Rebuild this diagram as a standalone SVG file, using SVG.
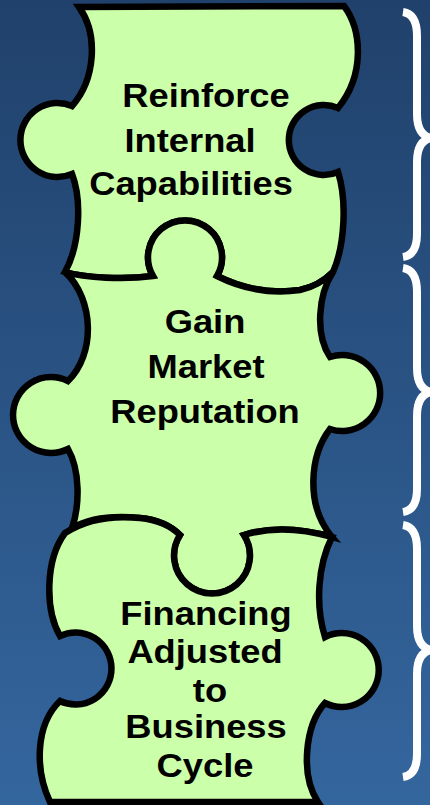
<svg xmlns="http://www.w3.org/2000/svg" width="430" height="805" viewBox="0 0 430 805">
  <defs>
    <linearGradient id="bg" x1="0" y1="0" x2="0" y2="1">
      <stop offset="0" stop-color="#20416B"/>
      <stop offset="1" stop-color="#34669E"/>
    </linearGradient>
    <style>
      .piece { fill: #CCFFAA; stroke: #000; stroke-width: 6.5; stroke-linejoin: miter; }
      .label { font-family: "Liberation Sans", Arial, sans-serif; font-weight: bold; font-size: 33px; fill: #000; text-anchor: middle; }
      .brace { fill: none; stroke: #FFFFFF; stroke-width: 8; stroke-linecap: butt; }
    </style>
  </defs>

  <rect width="430" height="805" fill="url(#bg)"/>

  <!-- top piece -->
  <g id="piece-reinforce">
    <path class="piece" d="M 79,7 L 344,6 C 362,30 365,75 338,108 A 35 35 0 1 0 338,172 C 347,200 345,245 333,272 C 325,280 315,287 300,290 C 265,295 235,285 217,276 A 37 37 0 1 0 153,276 C 125,280 85,278 65,272 C 80,245 82,200 72,174 A 37 37 0 1 1 72,106 C 95,80 99,35 79,7 Z"/>
    <g transform="translate(205 0) scale(1.1 1)">
      <text class="label" x="0.9" y="107">Reinforce</text>
      <text class="label" x="-13.6" y="152">Internal</text>
      <text class="label" x="-12.7" y="195">Capabilities</text>
    </g>
  </g>

  <!-- middle piece -->
  <g id="piece-reputation">
    <path class="piece" d="M 65,272 C 85,278 125,280 153,276 A 37 37 0 1 1 217,276 C 235,285 265,295 300,290 C 315,287 325,280 333,272 C 318,295 315,335 330,357 A 38 38 0 1 1 330,429 C 310,455 305,505 332,537 C 290,525 260,530 244,535 A 38 38 0 1 1 180,535 C 172,527 160,520 140,518 C 110,515 88,519 72,528 C 80,505 80,470 68,449 A 38 38 0 1 1 68,381 C 95,355 95,300 65,272 Z"/>
    <g transform="translate(205 0) scale(1.1 1)">
      <text class="label" x="0" y="333">Gain</text>
      <text class="label" x="0.9" y="378">Market</text>
      <text class="label" x="0" y="423">Reputation</text>
    </g>
  </g>

  <!-- bottom piece -->
  <g id="piece-financing">
    <path class="piece" d="M 65,533 C 85,520 110,515 140,518 C 160,520 172,527 180,535 A 38 38 0 1 0 244,535 C 260,530 290,525 332,537 C 318,565 315,605 325,637 A 37 37 0 1 1 325,703 C 305,725 300,775 318,802 L 50,802 C 35,770 35,725 60,701 A 36 36 0 1 0 60,636 C 45,610 45,560 65,533 Z"/>
    <g transform="translate(205 0) scale(1.1 1)">
      <text class="label" x="0.9" y="625">Financing</text>
      <text class="label" x="0" y="663">Adjusted</text>
      <text class="label" x="4.5" y="702">to</text>
      <text class="label" x="0.9" y="738">Business</text>
      <text class="label" x="0" y="777">Cycle</text>
    </g>
  </g>

  <!-- braces to the right of each piece -->
  <g id="connectors">
    <path class="brace" d="M 403,12 Q 417,14 417,36 L 417,114 Q 417,135 431,138 Q 417,141 417,162 L 417,234 Q 417,255 403,257"/>
    <path class="brace" d="M 403,268 Q 417,270 417,292 L 417,368 Q 417,389 431,392 Q 417,395 417,416 L 417,489 Q 417,510 403,512"/>
    <path class="brace" d="M 403,525 Q 417,527 417,549 L 417,626 Q 417,647 431,650 Q 417,653 417,674 L 417,754 Q 417,775 403,777"/>
  </g>
</svg>
